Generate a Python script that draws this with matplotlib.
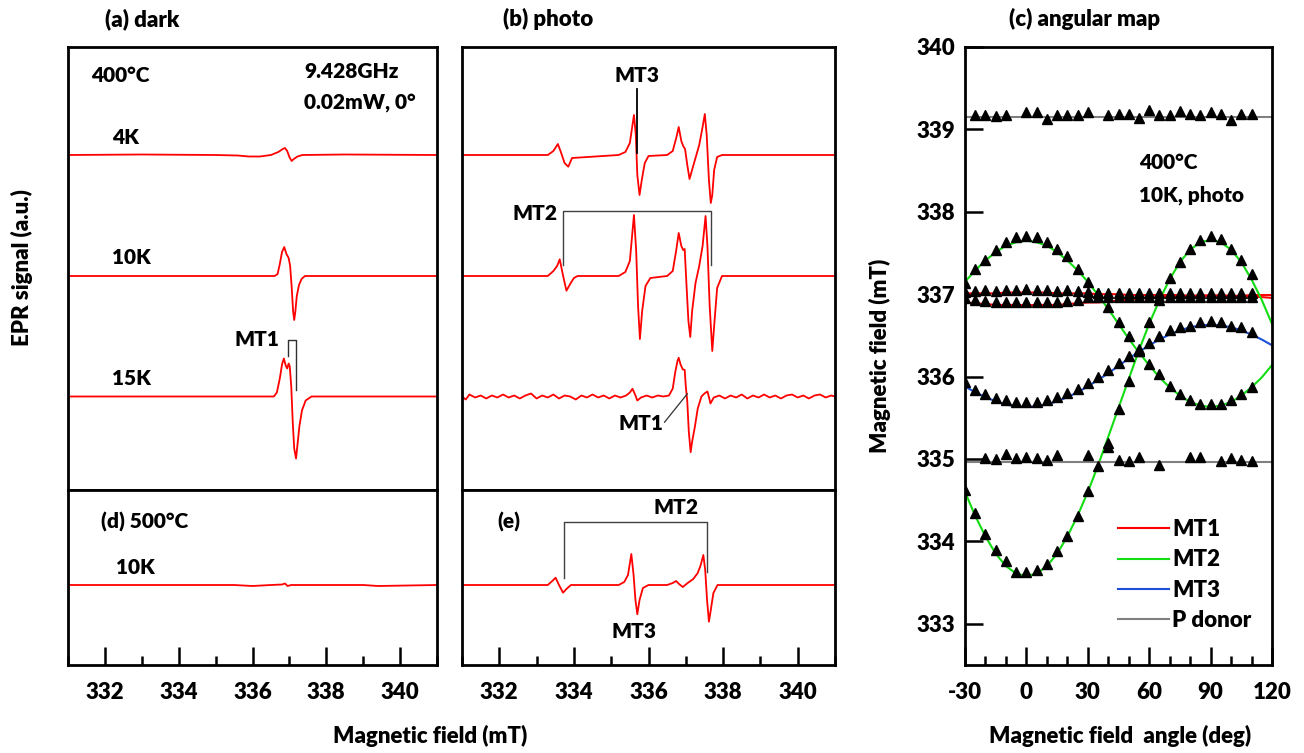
import numpy as np
import matplotlib
matplotlib.use("Agg")
import matplotlib.pyplot as plt
from matplotlib.ticker import MultipleLocator

plt.rcParams['font.family'] = ['Lato', 'DejaVu Sans']
plt.rcParams['font.weight'] = 'heavy'
plt.rcParams['axes.labelweight'] = 'heavy'
plt.rcParams['axes.unicode_minus'] = False

# ---------------- spectra (field in mT, signal in a.u.) ----------------
dark_4K_f = [331.0, 333.0, 335.0, 335.6, 335.9, 336.2, 336.5, 336.7, 336.82, 336.88, 336.94, 337.0,
             337.06, 337.12, 337.22, 337.35, 338.5, 341.0]
dark_4K_s = [0, 0.5, 0, -0.5, -1.5, -1.5, 0, 3, 6, 7, 4, -2, -6, -4, -1.5, 0, 0.5, 0]

dark_10K_f = [331.0, 336.6, 336.68, 336.74, 336.8, 336.86, 336.92, 336.98, 337.02, 337.06, 337.1,
              337.13, 337.16, 337.2, 337.26, 337.33, 337.42, 341.0]
dark_10K_s = [0, 0, 2, 12, 24, 29, 22, 18, 10, -10, -35, -44, -36, -20, -9, -3, 0, 0]

dark_15K_f = [331.0, 336.58, 336.66, 336.74, 336.8, 336.85, 336.9, 336.94, 336.98, 337.01, 337.05,
              337.09, 337.13, 337.18, 337.22, 337.27, 337.34, 337.44, 337.6, 341.0]
dark_15K_s = [0, 0, 4, 18, 32, 38, 31, 28, 33, 30, 10, -25, -52, -62, -48, -30, -14, -4, 0, 0]

photo_4K_f = [331.0, 333.3, 333.45, 333.57, 333.65, 333.75, 333.85, 333.95, 335.2, 335.38, 335.5,
              335.61, 335.66, 335.7, 335.76, 335.82, 335.9, 336.0, 336.5, 336.65, 336.75, 336.81,
              336.88, 336.93, 336.98, 337.04, 337.1, 337.16, 337.26, 337.36, 337.45, 337.51, 337.56,
              337.62, 337.67, 337.71, 337.76, 337.84, 337.97, 341.0]
photo_4K_s = [0, 0, 4, 11, 3, -8, -11.7, -3, 0, 3, 12, 40, 20, -20, -40, -25, -8, -1, 0, 4, 18, 28,
              14, 9, 6, -10, -24, -16, -3, 10, 28, 41, 20, -25, -48, -40, -15, -2, 0, 0]

photo_10K_f = [331.0, 333.3, 333.45, 333.55, 333.62, 333.7, 333.8, 333.9, 334.0, 334.1, 335.2, 335.38,
               335.5, 335.61, 335.67, 335.72, 335.77, 335.83, 335.92, 336.05, 336.5, 336.65, 336.74,
               336.81, 336.88, 336.93, 336.97, 337.02, 337.07, 337.12, 337.17, 337.26, 337.36, 337.45,
               337.53, 337.58, 337.64, 337.71, 337.76, 337.84, 337.97, 341.0]
photo_10K_s = [0, 0, 5, 10, 16.7, 2, -14.7, -8, -2, 0, 0, 4, 15, 61, 25, -30, -63, -35, -10, -2, 0, 5,
               25, 43, 30, 26, 27, -10, -45, -61, -35, -7, 10, 30, 60, 30, -30, -75, -50, -12, 0, 0]

photo_15K_f = [331.0, 331.1, 331.2, 331.35, 331.5, 331.65, 331.8, 331.95, 332.1, 332.25, 332.4, 332.55,
               332.7, 332.85, 333.0, 333.15, 333.3, 333.45, 333.6, 333.75, 333.9, 334.05, 334.2, 334.35,
               334.5, 334.65, 334.8, 334.95, 335.1, 335.25, 335.4, 335.5, 335.57, 335.64, 335.7, 335.8,
               335.95, 336.1, 336.25, 336.4, 336.55, 336.65, 336.72, 336.78, 336.81, 336.86, 336.92,
               336.97, 337.0, 337.04, 337.08, 337.13, 337.17, 337.24, 337.32, 337.42, 337.5, 337.58,
               337.63, 337.66, 337.75, 337.9, 338.05, 338.2, 338.35, 338.5, 338.65, 338.8, 338.95,
               339.1, 339.25, 339.4, 339.55, 339.7, 339.85, 340.0, 340.15, 340.3, 340.45, 340.6,
               340.75, 340.9, 341.0]
photo_15K_s = [0, -3, 2, -1, 1, -2, 1, -1, 2, -1, 1, -2, 1, 3, -2, 1, -1, 2, -2, 1, 0, -3, 1, -1,
               2, -1, 1, -2, 1, -1, 1, 4, 7.7, 2, -4, -1, 1, -1, 1, 0, 1, 8, 25, 36, 38.7, 32, 27,
               26.7, 10, -5, -35, -55.7, -45, -31, -12, 0, 3, 5, -2, -7, -1, 1, -2, 1, -1, 2, -2, 1,
               -1, 2, -1, 1, -2, 1, 2, -1, 1, -2, 1, 2, -1, 1, 0]

d500_f = [331.0, 335.5, 336.0, 336.5, 336.8, 336.88, 336.95, 337.05, 337.3, 338.0, 339.0, 339.4, 341.0]
d500_s = [0, 0, -1, 0, 0.5, 1.5, -1, 0, 0, 0, 0, -1, 0]

e_f = [331.0, 333.3, 333.42, 333.51, 333.6, 333.71, 333.8, 333.92, 335.2, 335.35, 335.45, 335.54,
       335.6, 335.65, 335.7, 335.76, 335.85, 336.0, 336.5, 336.65, 336.74, 336.82, 336.92, 337.05,
       337.2, 337.32, 337.4, 337.47, 337.52, 337.57, 337.62, 337.67, 337.74, 337.85, 341.0]
e_s = [0, 0, 4, 7.3, 0, -7.7, -4, 0, 0, 3, 10, 31, 10, -15, -29.3, -15, -3, 0, 0, 2, 4, 1, -2, 2,
       6, 12, 20, 30, 15, -15, -36.7, -25, -8, 0, 0]

# ---------------- angular map ----------------
ang_fit = [-30, -25, -20, -15, -10, -5, 0, 5, 10, 15, 20, 25, 30, 35, 40, 45, 50, 55, 60, 65, 70,
           75, 80, 85, 90, 95, 100, 105, 110, 115, 120]
fit_mt1a = [337.01, 337.01, 337.01, 337.01, 337.02, 337.02, 337.02, 337.02, 337.02, 337.01, 337.01,
            337.01, 337.01, 337.0, 337.0, 337.0, 336.99, 336.99, 336.99, 336.99, 336.99, 336.99,
            336.98, 336.98, 336.98, 336.98, 336.98, 336.98, 336.99, 336.99, 336.99]
fit_mt1b = [336.9, 336.89, 336.88, 336.87, 336.87, 336.87, 336.865, 336.87, 336.87, 336.87, 336.88,
            336.89, 336.9, 336.9, 336.91, 336.925, 336.935, 336.945, 336.955, 336.965, 336.97,
            336.975, 336.98, 336.985, 336.985, 336.985, 336.98, 336.975, 336.97, 336.965, 336.955]
fit_mt2a = [337.15, 337.29, 337.41, 337.51, 337.59, 337.63, 337.65, 337.63, 337.59, 337.51, 337.41,
            337.29, 337.15, 336.99, 336.82, 336.64, 336.46, 336.29, 336.14, 335.99, 335.87, 335.77,
            335.69, 335.65, 335.63, 335.65, 335.69, 335.77, 335.87, 335.99, 336.14]
fit_mt2b = [334.6, 334.31, 334.06, 333.85, 333.7, 333.61, 333.58, 333.61, 333.7, 333.85, 334.06,
            334.31, 334.6, 334.92, 335.27, 335.62, 335.97, 336.32, 336.64, 336.93, 337.18, 337.39,
            337.54, 337.63, 337.66, 337.63, 337.54, 337.39, 337.18, 336.93, 336.64]
fit_mt3 = [335.88, 335.81, 335.75, 335.7, 335.66, 335.64, 335.63, 335.64, 335.66, 335.7, 335.75,
           335.81, 335.88, 335.96, 336.04, 336.13, 336.22, 336.3, 336.38, 336.45, 336.51, 336.56,
           336.6, 336.62, 336.63, 336.62, 336.6, 336.56, 336.51, 336.45, 336.38]
fit_p_hi = [339.15] * 31
fit_p_lo = [334.96] * 31

ang_pts = [-30, -25, -20, -15, -10, -5, 0, 5, 10, 15, 20, 25, 30, 35, 40, 45, 50, 55, 60, 65, 70,
           75, 80, 85, 90, 95, 100, 105, 110]
pts_mt2a = [337.14, 337.3, 337.42, 337.54, 337.63, 337.69, 337.71, 337.69, 337.63, 337.55, 337.46,
            337.31, 337.15, 337.02, 336.85, 336.66, 336.49, 336.31, 336.15, 336.03, 335.89, 335.79,
            335.71, 335.67, 335.67, 335.67, 335.71, 335.79, 335.87]
pts_mt2b = [334.62, 334.35, 334.09, 333.89, 333.76, 333.63, 333.63, 333.65, 333.73, 333.88, 334.07,
            334.31, 334.61, 334.91, 335.2, 335.61, 335.95, 336.31, 336.66, 336.93, 337.2, 337.39,
            337.55, 337.66, 337.71, 337.67, 337.55, 337.42, 337.24]
pts_mt3 = [335.93, 335.84, 335.79, 335.74, 335.71, 335.69, 335.69, 335.69, 335.71, 335.75, 335.8,
           335.85, 335.92, 336.0, 336.08, 336.17, 336.25, 336.33, 336.41, 336.49, 336.56, 336.6,
           336.62, 336.66, 336.68, 336.66, 336.62, 336.6, 336.54]
pts_mt1a = [337.03, 337.04, 337.05, 337.04, 337.05, 337.05, 337.06, 337.05, 337.05, 337.04, 337.05,
            337.04, 337.03, 337.01, 337.02, 337.02, 337.02, 337.02, 337.01, 337.02, 337.02, 337.02,
            337.01, 337.02, 337.02, 337.02, 337.01, 337.02, 337.01]
pts_mt1b = [336.95, 336.93, 336.92, 336.9, 336.9, 336.9, 336.9, 336.9, 336.9, 336.9, 336.92,
            336.93, 336.96, 336.96, 336.96, 336.96, 336.97, 336.97, 336.97, 336.97, 336.97, 336.96,
            336.97, 336.96, 336.97, 336.97, 336.96, 336.97, 336.96]
ang_p_hi = [-25, -20, -15, -10, 0, 5, 10, 15, 20, 25, 30, 40, 45, 50, 55, 60, 65, 70, 75, 80, 85,
            90, 95, 100, 105, 110]
pts_p_hi = [339.18, 339.17, 339.16, 339.17, 339.21, 339.21, 339.13, 339.18, 339.17, 339.17, 339.21,
            339.18, 339.19, 339.19, 339.14, 339.24, 339.18, 339.17, 339.22, 339.19, 339.17, 339.21,
            339.19, 339.11, 339.19, 339.19]
ang_p_lo = [-20, -15, -10, -5, 0, 5, 10, 15, 30, 40, 45, 50, 55, 65, 80, 85, 95, 100, 105, 110]
pts_p_lo = [335.01, 335.0, 335.06, 335.01, 335.03, 335.01, 334.99, 335.05, 335.05, 335.14, 334.99,
            334.98, 335.03, 334.93, 335.03, 335.03, 334.97, 335.01, 334.99, 334.97]

RED = '#ff0000'
GREEN = '#11dd11'
BLUE = '#1a4fd8'
GRAY = '#808080'

W, H = 1304, 753
fig = plt.figure(figsize=(W / 100, H / 100), dpi=100)


def box(x0, x1, y0, y1):
    return fig.add_axes([x0 / W, 1 - y1 / H, (x1 - x0) / W, (y1 - y0) / H])


def ftext(x, y, s, **kw):
    fig.text(x / W, 1 - y / H, s, **kw)


ax_a = box(68, 437, 47, 490)
ax_d = box(68, 437, 490, 665)
ax_b = box(462, 835, 47, 490)
ax_e = box(462, 835, 490, 665)
ax_c = box(965, 1272, 47, 665)

for ax in [ax_a, ax_d, ax_b, ax_e, ax_c]:
    for sp in ax.spines.values():
        sp.set_linewidth(2.0)

offsets = [0, -121, -241.5]
for ax in [ax_a, ax_b]:
    ax.set_xlim(331, 341)
    ax.set_ylim(-335, 108)
    ax.set_xticks([])
    ax.set_yticks([])
for ax in [ax_d, ax_e]:
    ax.set_xlim(331, 341)
    ax.set_ylim(-80, 95)
    ax.set_yticks([])
    ax.xaxis.set_major_locator(MultipleLocator(2))
    ax.xaxis.set_minor_locator(MultipleLocator(1))
    ax.tick_params(axis='x', which='major', direction='in', length=13, width=1.8, labelsize=16, pad=12)
    ax.tick_params(axis='x', which='minor', direction='in', length=6.5, width=1.8)

lw_sp = 1.3
for (f, s), off in zip([(dark_4K_f, dark_4K_s), (dark_10K_f, dark_10K_s), (dark_15K_f, dark_15K_s)], offsets):
    ax_a.plot(f, np.array(s) + off, color=RED, lw=lw_sp)
for (f, s), off in zip([(photo_4K_f, photo_4K_s), (photo_10K_f, photo_10K_s), (photo_15K_f, photo_15K_s)], offsets):
    ax_b.plot(f, np.array(s) + off, color=RED, lw=lw_sp)
ax_d.plot(d500_f, d500_s, color=RED, lw=lw_sp)
ax_e.plot(e_f, e_s, color=RED, lw=lw_sp)

fs = 15
# panel (a) labels
ax_a.text(331.62, 155 - 75, '400°C', fontsize=fs, va='center')
ax_a.text(337.4, 155 - 72, '9.428GHz', fontsize=fs, va='center')
ax_a.text(337.4, 155 - 102, '0.02mW, 0°', fontsize=fs, va='center')
for lab, off in zip(['4K', '10K', '15K'], offsets):
    ax_a.text(332.2, off + 18, lab, fontsize=fs, va='center')
ax_a.plot([336.97, 336.97, 337.19, 337.19], [-241.5 + 40.7, -241.5 + 56.7, -241.5 + 56.7, -241.5 + 6.7],
          color='#303030', lw=1.0)
ax_a.text(336.72, -241.5 + 57, 'MT1', fontsize=fs, va='center', ha='right')

# panel (b) labels
ax_b.plot([335.70, 335.70], [2, 66], color='black', lw=1.3)
ax_b.text(335.70, 80, 'MT3', fontsize=fs, va='center', ha='center')
ax_b.plot([333.71, 333.71, 337.68, 337.68], [-121 + 11, -121 + 65, -121 + 65, -121 + 11],
          color='#404040', lw=1.0)
ax_b.text(333.57, -121 + 63, 'MT2', fontsize=fs, va='center', ha='right')
ax_b.plot([336.43, 337.04], [-241.5 - 25.7, -241.5 + 2.7], color='#303030', lw=0.9)
ax_b.text(336.4, -241.5 - 27, 'MT1', fontsize=fs, va='center', ha='right')

# panel (d)
ax_d.text(331.9, 63, '(d) 500°C', fontsize=fs, va='center')
ax_d.text(332.3, 18, '10K', fontsize=fs, va='center')

# panel (e)
ax_e.text(331.95, 63, '(e)', fontsize=fs, va='center')
ax_e.plot([333.73, 333.73, 337.58, 337.58], [6.7, 62.7, 62.7, 13.3], color='#404040', lw=1.0)
ax_e.text(336.74, 77, 'MT2', fontsize=fs, va='center', ha='center')
ax_e.text(335.61, -46.7, 'MT3', fontsize=fs, va='center', ha='center')

# ---------------- panel (c) ----------------
ax_c.plot(ang_fit, fit_p_hi, color=GRAY, lw=1.5)
ax_c.plot(ang_fit, fit_mt1a, color=RED, lw=1.5)
ax_c.plot(ang_fit, fit_mt1b, color=RED, lw=1.5)
ax_c.plot(ang_fit, fit_mt2a, color=GREEN, lw=1.5)
ax_c.plot(ang_fit, fit_mt2b, color=GREEN, lw=1.5)
ax_c.plot(ang_fit, fit_mt3, color=BLUE, lw=1.5)
ax_c.plot(ang_fit, fit_p_lo, color=GRAY, lw=1.5)

mk = dict(marker='^', ms=7.5, color='black', ls='none', zorder=3)
for ys in [pts_mt1a, pts_mt1b, pts_mt2a, pts_mt2b, pts_mt3]:
    ax_c.plot(ang_pts, ys, **mk)
ax_c.plot(ang_p_hi, pts_p_hi, **mk)
ax_c.plot(ang_p_lo, pts_p_lo, **mk)

h1, = ax_c.plot([], [], color=RED, lw=1.5, label='MT1')
h2, = ax_c.plot([], [], color=GREEN, lw=1.5, label='MT2')
h3, = ax_c.plot([], [], color=BLUE, lw=1.5, label='MT3')
h4, = ax_c.plot([], [], color=GRAY, lw=1.5, label='P donor')
ax_c.legend(handles=[h1, h2, h3, h4], loc='upper left',
            bbox_to_anchor=((1118 - 965) / 307, (665 - 519) / 618),
            frameon=False, fontsize=16, handlelength=2.3, handletextpad=0.15,
            labelspacing=0.42, borderpad=0, borderaxespad=0)

ax_c.set_xlim(-30, 120)
ax_c.set_ylim(332.5, 340)
ax_c.xaxis.set_major_locator(MultipleLocator(30))
ax_c.xaxis.set_minor_locator(MultipleLocator(10))
ax_c.yaxis.set_major_locator(MultipleLocator(1))
ax_c.tick_params(which='major', direction='in', length=13, width=1.8, labelsize=16)
ax_c.tick_params(which='minor', direction='in', length=6.5, width=1.8)
ax_c.tick_params(axis='x', pad=12)
ax_c.tick_params(axis='y', pad=7)
ax_c.text(55, 338.6, '400°C', fontsize=fs, va='center')
ax_c.text(55, 338.2, '10K, photo', fontsize=fs, va='center')

# titles and axis labels
ftext(105, 19, '(a) dark', fontsize=16, va='center')
ftext(503, 19, '(b) photo', fontsize=16, va='center')
ftext(1009, 19, '(c) angular map', fontsize=16, va='center')
ftext(22, 268, 'EPR signal (a.u.)', fontsize=16, va='center', ha='center', rotation=90)
ftext(430, 736, 'Magnetic field (mT)', fontsize=16, va='center', ha='center')
ftext(1120, 736, 'Magnetic field  angle (deg)', fontsize=16, va='center', ha='center')
ftext(880, 356, 'Magnetic field (mT)', fontsize=16, va='center', ha='center', rotation=90)

fig.savefig('out.png', dpi=100)
